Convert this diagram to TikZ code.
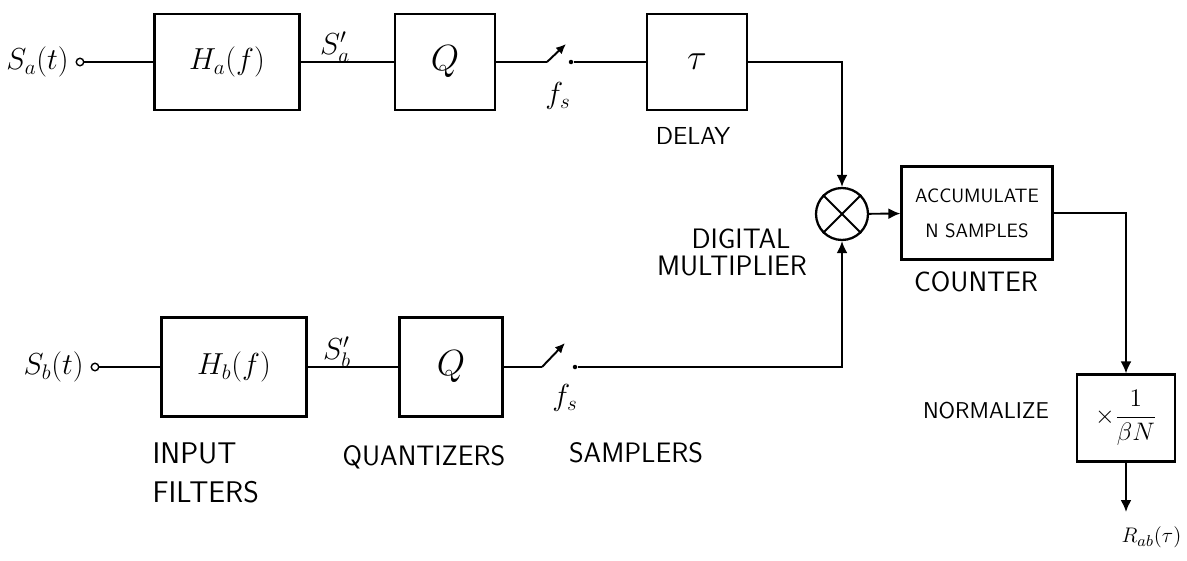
\documentclass[tikz,border=0pt]{standalone}
\usepackage{amsmath}
\usepackage{fontspec}
\usetikzlibrary{arrows.meta,positioning}

\begin{document}
\begin{tikzpicture}[
    x=0.02cm, y=-0.02cm, line width=1.1pt,
    >={Latex[length=2.4mm,width=2.2mm]},
    blk/.style={draw, line width=1.3pt, minimum height=1.92cm, inner sep=0pt,
       font=\fontsize{17}{20}\selectfont},
    bigsym/.style={font=\fontsize{21}{24}\selectfont},
    term/.style={draw, circle, inner sep=0pt, minimum size=0.15cm, line width=0.8pt},
    contact/.style={fill, circle, inner sep=0pt, minimum size=0.09cm},
    mixer/.style={draw, circle, line width=1.3pt, minimum size=1.04cm, inner sep=0pt},
    sig/.style={font=\fontsize{17}{20}\selectfont},
    tagtxt/.style={font=\fontsize{16}{20}\sffamily, inner sep=1pt},
    blade/.style={-{Latex[length=2mm,width=1.8mm]}}
  ]
    \useasboundingbox (0,0) rectangle (1187,561);

    % Upper channel
    \node[term] (ta) at (80,62) {};
    \node[sig, left=0pt of ta] (sa) {$S_a(t)$};
    \node[blk, minimum width=2.9cm] (Ha) at (227,62) {$H_a(f)$};
    \node[blk, bigsym, minimum width=2cm] (Qa) at (445,62) {$Q$};
    \coordinate (pa) at (547,62);
    \coordinate (ba) at (566,44);
    \node[contact] (swa) at (571,62) {};
    \node[blk, bigsym, minimum width=2cm] (Tau) at (697,62) {$\tau$};
    \node[sig] (sap) at (335,47) {$S'_a$};
    \node[sig] (fsa) at (558,96) {$f_s$};
    \node[tagtxt, font=\fontsize{14}{18}\sffamily] (delay) at (693,136) {DELAY};

    % Lower channel
    \node[term] (tb) at (95,367) {};
    \node[sig, left=0pt of tb] (sb) {$S_b(t)$};
    \node[blk, minimum width=2.9cm, minimum height=1.98cm] (Hb) at (234,367) {$H_b(f)$};
    \node[blk, bigsym, minimum width=2.06cm, minimum height=1.98cm] (Qb) at (451,367) {$Q$};
    \coordinate (pb) at (542,367);
    \coordinate (bb) at (565,343);
    \node[contact] (swb) at (575,367) {};
    \node[sig] (sbp) at (337,352) {$S'_b$};
    \node[sig] (fsb) at (565,398) {$f_s$};
    \node[tagtxt, font=\fontsize{17}{22}\sffamily, align=left, anchor=west] (filt) at (150,473) {INPUT\\FILTERS};
    \node[tagtxt] (quant) at (424,457) {QUANTIZERS};
    \node[tagtxt] (samp) at (636,453) {SAMPLERS};

    % Multiplier, counter and normalizer
    \node[mixer] (mx) at (842,214) {};
    \draw (mx.45) -- (mx.225) (mx.135) -- (mx.-45);
    \node[tagtxt] (dig) at (741,239) {DIGITAL};
    \node[tagtxt] (mul) at (732,266) {MULTIPLIER};
    \node[blk, minimum width=3.02cm, minimum height=1.86cm, align=center,
       font=\fontsize{11}{20}\sffamily] (acc) at (977,213) {ACCUMULATE\\N SAMPLES};
    \node[tagtxt] (cnt) at (976,282) {COUNTER};
    \node[blk, minimum width=1.96cm, minimum height=1.74cm,
       font=\fontsize{14}{18}\selectfont] (norm) at (1126,418) {$\times\dfrac{1}{\beta N}$};
    \node[tagtxt, font=\fontsize{13}{16}\sffamily] (nrm) at (986,411) {NORMALIZE};
    \coordinate (rtip) at (1126,512);
    \node[sig, font=\fontsize{13}{16}\selectfont, inner sep=1pt, anchor=north east] (rab) at (1184,524) {$R_{ab}(\tau)$};

    % Upper connections
    \draw (ta) -- (Ha);
    \draw (Ha) -- (Qa);
    \draw (Qa) -- (pa);
    \draw[blade] (pa) -- (ba);
    \draw (swa) -- (Tau);
    \draw[->] (Tau.east) -| (mx.north);

    % Lower connections
    \draw (tb) -- (Hb);
    \draw (Hb) -- (Qb);
    \draw (Qb) -- (pb);
    \draw[blade] (pb) -- (bb);
    \draw[->] (swb) -| (mx.south);

    % Output chain
    \draw[->] (mx) -- (acc);
    \draw[->] (acc.east) -| (norm.north);
    \draw[->] (norm) -- (rtip);
  \end{tikzpicture}
\end{document}
